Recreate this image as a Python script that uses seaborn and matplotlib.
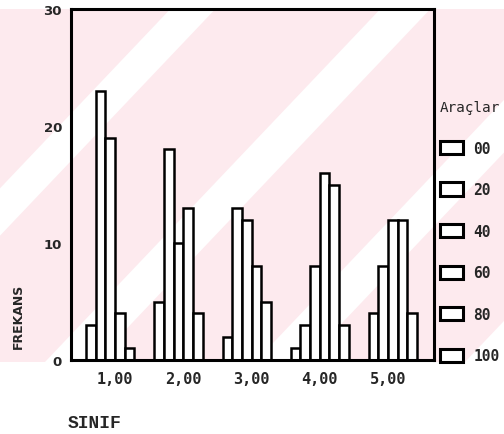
import matplotlib
matplotlib.use("Agg")
import matplotlib.pyplot as plt
from matplotlib.patches import Polygon, Rectangle
import pandas as pd
import seaborn as sns

# Class (SINIF) categories and tool-score (Araçlar) levels
sinif = ["1,00", "2,00", "3,00", "4,00", "5,00"]
araclar = ["00", "20", "40", "60", "80", "100"]

# Frequencies per tool-score level, one value per class
frek_00 = [3, 5, 2, 1, 0]
frek_20 = [23, 18, 13, 3, 4]
frek_40 = [19, 10, 12, 8, 8]
frek_60 = [4, 13, 8, 16, 12]
frek_80 = [1, 4, 5, 15, 12]
frek_100 = [0, 0, 0, 3, 4]

y_ticks = [0, 10, 20, 30]

series = [frek_00, frek_20, frek_40, frek_60, frek_80, frek_100]
rows = []
for level, vals in zip(araclar, series):
    for cls, v in zip(sinif, vals):
        rows.append({"SINIF": cls, "Araçlar": level, "FREKANS": v})
df = pd.DataFrame(rows)

sns.set_style("white")
plt.rcParams["font.family"] = ["DejaVu Sans"]

W, H = 504, 435
fig = plt.figure(figsize=(W / 100, H / 100), dpi=100)
fig.patch.set_facecolor("white")


def fx(px):
    return px / W


def fy(py):
    return 1 - py / H


# faint pink background band with diagonal white stripes
pink = "#fdeaee"
band_top, band_bot = 10, 363
bg = Rectangle((0, fy(band_bot)), 1, fy(band_top) - fy(band_bot),
               transform=fig.transFigure, facecolor=pink, edgecolor="none", zorder=0)
fig.patches.append(bg)
slope = 0.95
span = band_bot - band_top
for a, w in [(-380, 45), (-165, 45), (45, 50), (255, 50), (465, 50)]:
    pts = [(a, band_bot), (a + w, band_bot),
           (a + w + slope * span, band_top), (a + slope * span, band_top)]
    poly = Polygon([(fx(x), fy(y)) for x, y in pts], closed=True,
                   transform=fig.transFigure, facecolor="white", edgecolor="none", zorder=0.5)
    poly.set_clip_path(bg)
    fig.patches.append(poly)

ax = fig.add_axes([fx(71), fy(361), fx(434) - fx(71), fy(10) - fy(361)])
ax.set_facecolor("none")
ax.set_zorder(2)

sns.barplot(data=df, x="SINIF", y="FREKANS", hue="Araçlar",
            order=sinif, hue_order=araclar,
            palette={lvl: "white" for lvl in araclar},
            edgecolor="black", linewidth=1.8, width=0.85,
            ax=ax, legend=True)

ax.set_ylim(0, 30)
ax.set_xlim(-0.645, 4.674)
ax.set_yticks(y_ticks)
ax.set_yticklabels([str(t) for t in y_ticks])
for s in ax.spines.values():
    s.set_visible(True)
    s.set_color("black")
    s.set_linewidth(2.2)

ax.tick_params(axis="y", length=0, pad=6.5)
ax.tick_params(axis="x", length=0, pad=8)
for t in ax.get_yticklabels():
    t.set_fontfamily("DejaVu Sans")
    t.set_fontweight("bold")
    t.set_fontsize(9.5)
for t in ax.get_xticklabels():
    t.set_fontfamily("DejaVu Sans Mono")
    t.set_fontweight("bold")
    t.set_fontsize(11)

ax.set_ylabel("FREKANS", fontsize=9, fontweight="bold", fontfamily="DejaVu Sans")
ax.yaxis.set_label_coords((25 - 71) / 363, (361 - 316) / 351)
ax.set_xlabel("SINIF", fontsize=13, fontweight="bold", fontfamily="Liberation Mono")
ax.xaxis.set_label_coords((95 - 71) / 363, (361 - 415) / 351)

leg = ax.get_legend()
handles = leg.legend_handles
labels = [t.get_text() for t in leg.get_texts()]
leg.remove()
for h in handles:
    h.set_facecolor("white")
    h.set_edgecolor("black")
    h.set_linewidth(2.2)

new_leg = fig.legend(handles, labels, title="Araçlar",
                     loc="upper left", bbox_to_anchor=(fx(440), fy(101)),
                     borderaxespad=0, borderpad=0, frameon=False,
                     handlelength=1.55, handleheight=1.03, handletextpad=0.75,
                     labelspacing=1.82,
                     prop={"family": "DejaVu Sans Mono", "weight": "bold", "size": 10.5},
                     title_fontproperties={"family": "DejaVu Sans Mono", "size": 10.3})
new_leg._legend_box.align = "left"
new_leg.set_zorder(3)

fig.savefig("out.png", dpi=100, facecolor=fig.get_facecolor())
